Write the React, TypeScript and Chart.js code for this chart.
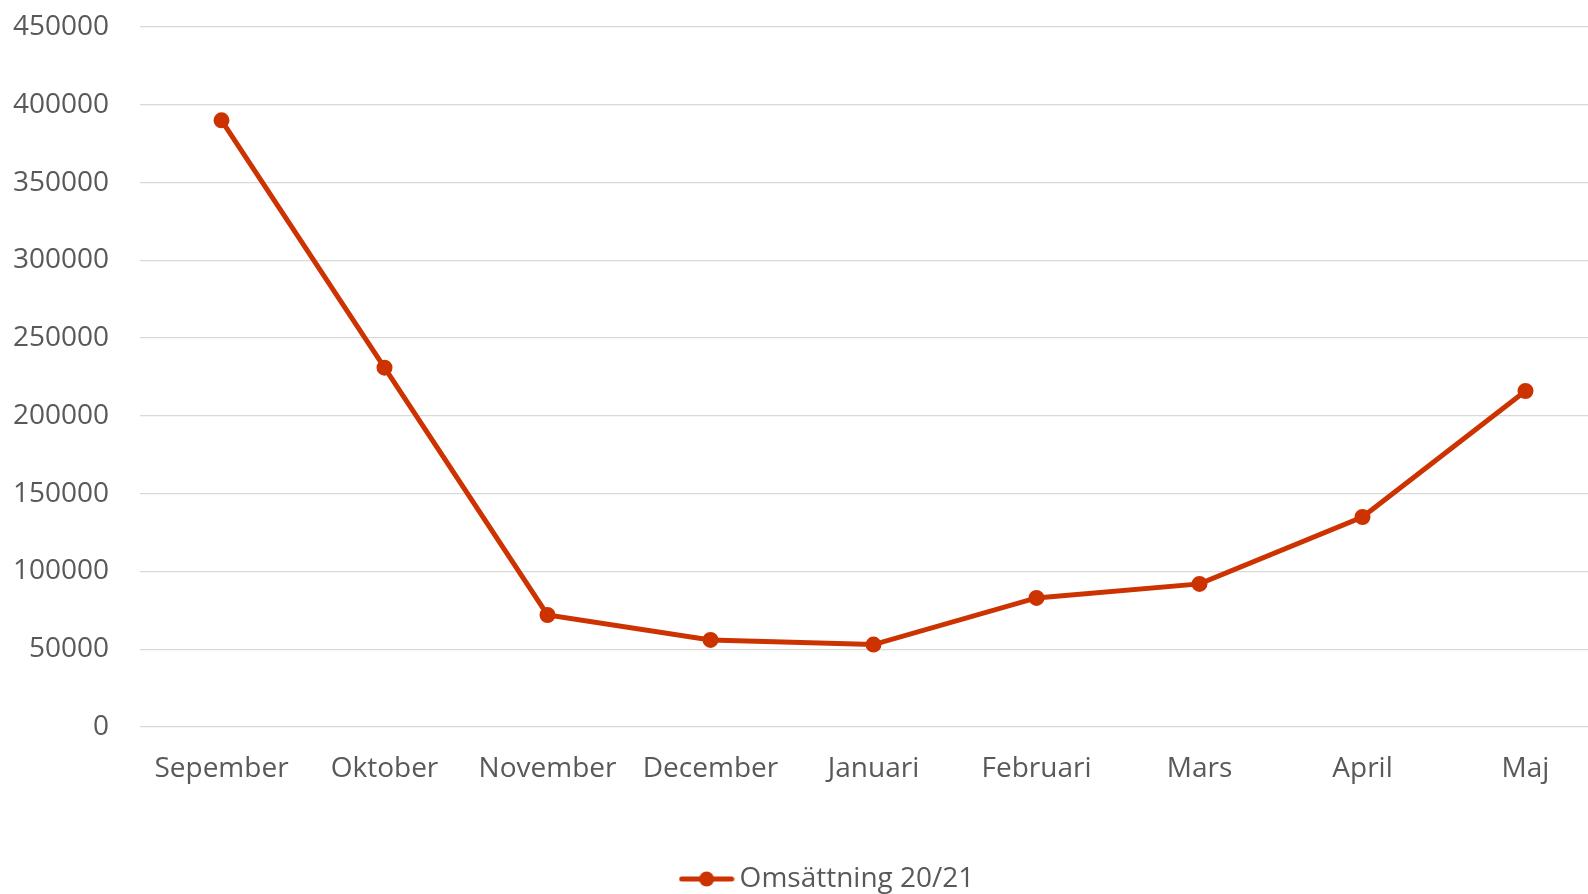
import React, { useEffect, useRef } from "react";
import { Chart, registerables } from "chart.js";

Chart.register(...registerables);

const months = ["Sepember", "Oktober", "November", "December", "Januari", "Februari", "Mars", "April", "Maj"];
const revenue = [390000, 231000, 72000, 56000, 53000, 83000, 92000, 135000, 216000];
const seriesLabel = "Omsättning 20/21";
const yMin = 0;
const yMax = 450000;
const yStep = 50000;

const LINE = "#CC3300";
const TEXT = "#595959";
const GRID = "#D9D9D9";
const FONT = "'Open Sans', 'Noto Sans', sans-serif";

const CANVAS_W = 1616;
const CANVAS_H = 920;

function makeLegendIcon(): HTMLCanvasElement {
  const c = document.createElement("canvas");
  c.width = 56;
  c.height = 20;
  const ctx = c.getContext("2d")!;
  ctx.strokeStyle = LINE;
  ctx.lineWidth = 5;
  ctx.lineCap = "round";
  ctx.beginPath();
  ctx.moveTo(3, 10);
  ctx.lineTo(53, 10);
  ctx.stroke();
  ctx.fillStyle = LINE;
  ctx.beginPath();
  ctx.arc(28, 10, 7.5, 0, Math.PI * 2);
  ctx.fill();
  return c;
}

const legendShift = {
  id: "legendShift",
  afterLayout(chart: any) {
    if (chart.legend) {
      chart.legend.left += 23;
      chart.legend.right += 23;
    }
  },
};

export default function App() {
  const ref = useRef<HTMLCanvasElement | null>(null);

  useEffect(() => {
    if (!ref.current) return;
    const icon = makeLegendIcon();
    const chart = new Chart(ref.current, {
      type: "line",
      data: {
        labels: months,
        datasets: [
          {
            label: seriesLabel,
            data: revenue,
            borderColor: LINE,
            backgroundColor: LINE,
            borderWidth: 5,
            pointRadius: 7,
            pointBorderWidth: 2,
            pointBackgroundColor: LINE,
            pointBorderColor: LINE,
            tension: 0,
            fill: false,
          },
        ],
      },
      plugins: [legendShift],
      options: {
        responsive: false,
        animation: false,
        layout: { padding: { left: 0, top: 27, right: 0, bottom: 17 } },
        plugins: {
          tooltip: { enabled: false },
          legend: {
            display: true,
            position: "bottom",
            labels: {
              usePointStyle: true,
              pointStyleWidth: 38,
              boxHeight: 20,
              padding: 10,
              color: TEXT,
              font: { family: FONT, size: 28 },
              generateLabels: () => [
                {
                  text: seriesLabel,
                  pointStyle: icon as any,
                  fillStyle: LINE,
                  strokeStyle: LINE,
                  lineWidth: 0,
                  fontColor: TEXT,
                  hidden: false,
                  datasetIndex: 0,
                },
              ],
            },
          },
        },
        scales: {
          x: {
            offset: true,
            grid: { display: false, drawTicks: false },
            border: { display: false },
            ticks: { color: TEXT, font: { family: FONT, size: 28 }, padding: 25, maxRotation: 0, autoSkip: false },
            afterFit: (s: any) => {
              s.height = 128;
            },
          },
          y: {
            min: yMin,
            max: yMax,
            ticks: {
              stepSize: yStep,
              color: TEXT,
              font: { family: FONT, size: 28 },
              padding: 0,
              callback: (v: any) => String(v),
            },
            grid: { color: GRID, lineWidth: 1.3, drawTicks: true, tickLength: 31, tickColor: "rgba(0,0,0,0)" },
            border: { display: false },
            afterFit: (s: any) => {
              s.width = 140;
            },
          },
        },
      },
    });
    return () => chart.destroy();
  }, []);

  return (
    <div style={{ position: "fixed", left: 0, top: 0, width: 1588, height: 894, overflow: "hidden", background: "#fff" }}>
      <canvas ref={ref} width={CANVAS_W} height={CANVAS_H} style={{ width: CANVAS_W, height: CANVAS_H, display: "block" }} />
    </div>
  );
}
